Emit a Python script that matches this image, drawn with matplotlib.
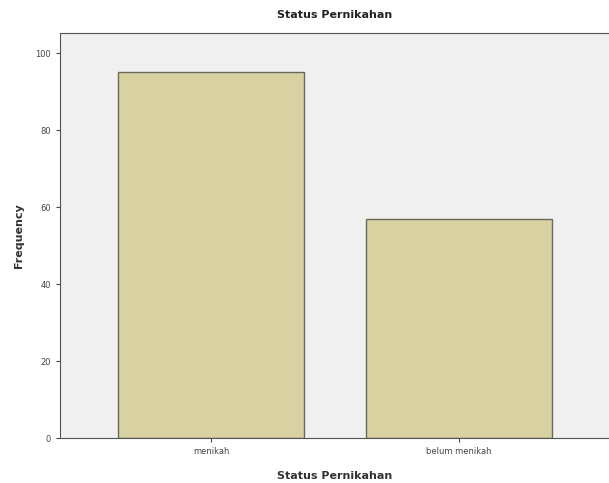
import matplotlib.pyplot as plt

# data
categories = ['menikah', 'belum menikah']
freq = [95, 57]
yticks = [0, 20, 40, 60, 80, 100]

fig = plt.figure(figsize=(6.09, 4.83), dpi=100)
ax = fig.add_axes([60/609, 1-438/483, 549/609, (438-33)/483])
ax.set_facecolor('#f0f0f0')

x = range(len(categories))
ax.bar(x, freq, width=0.75, color='#d8d1a2', edgecolor='#6a6a5a', linewidth=1.0)

ax.set_xlim(-0.61, 1.605)
ax.set_ylim(0, 105.2)
ax.set_yticks(yticks)
ax.set_xticks(list(x))
ax.set_xticklabels(categories, fontsize=6, color='#444444')
ax.tick_params(axis='y', labelsize=6, colors='#444444', length=3)
ax.tick_params(axis='x', length=3, colors='#444444')

for s in ['left', 'bottom', 'top']:
    ax.spines[s].set_color('#555555')
ax.spines['right'].set_visible(False)

ax.set_title('Status Pernikahan', fontsize=8, fontweight='semibold', color='#222222', pad=11)
ax.set_xlabel('Status Pernikahan', fontsize=8, fontweight='bold', color='#333333', labelpad=11)
ax.set_ylabel('Frequency', fontsize=8, fontweight='bold', color='#333333', labelpad=8)

fig.savefig('out.png', dpi=100)
